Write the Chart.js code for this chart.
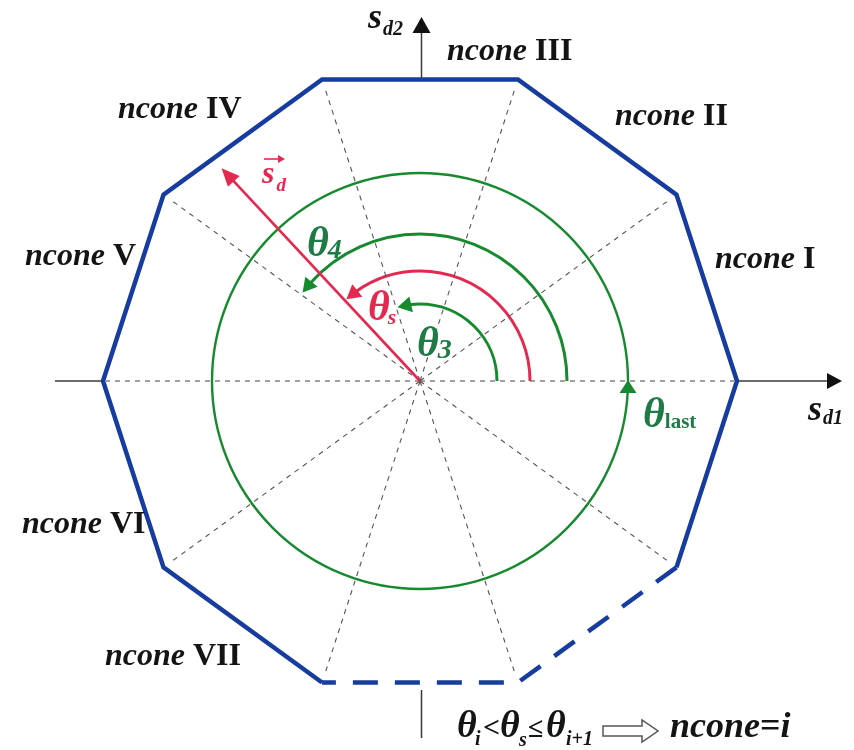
<!DOCTYPE html>
<html>
<head>
<meta charset="utf-8">
<script src="https://cdn.jsdelivr.net/npm/chart.js@4/dist/chart.umd.min.js"></script>
<style>
  html, body { margin: 0; padding: 0; background: #fff; }
  canvas { display: block; }
</style>
</head>
<body>
<canvas id="c" width="854" height="750"></canvas>
<script>
// Cone boundary angles θ1…θ10 (degrees) of the decagonal cross-section
const coneAngles = [0, 36, 72, 108, 144, 180, 216, 252, 288, 324];
const coneNames = ['I', 'II', 'III', 'IV', 'V', 'VI', 'VII'];
const decagonRadius = 317;
// vertex sequences: solid outline and the dashed (open) part
const solidVertices = [9, 0, 1, 2, 3, 4, 5, 6, 7];
const dashedVertices = [9, 8, 7];
const spokeLength = 305;
// direction vector s_d
const sdAngle = 133;
const sdLength = 291;
// angle arcs θ3, θs, θ4
const arcSubscripts = ['3', 's', '4'];
const arcEndAngles = [108, 133, 144];
const arcRadii = [77, 110, 147];
// full sweep up to θ_last
const sweepRadius = 208;

// ---- layout / styling ----
const BLUE = '#173c9f';
const GREEN = '#17892f';
const GREEN_TXT = '#1f7b46';
const RED = '#e3294f';
const AXIS = '#3a3a3a';
const INK = '#141414';
const SERIF = '"Liberation Serif", "Times New Roman", serif';
const bi = s => `italic bold ${s}px ${SERIF}`;
const b = s => `bold ${s}px ${SERIF}`;

const rad = d => d * Math.PI / 180;
const polar = (deg, r) => ({ x: r * Math.cos(rad(deg)), y: r * Math.sin(rad(deg)) });
const vertex = i => polar(coneAngles[i], decagonRadius);

// left/baseline anchors of the cone labels (chart units, origin at the centre)
const coneLabelAnchors = [
  [295, 113], [195, 256], [27, 321], [-302, 263], [-395, 116], [-398, -152], [-315, -284]
];

const line = (pts, color, width, dash, order) => ({
  data: pts, showLine: true, borderColor: color, borderWidth: width,
  borderDash: dash || [], pointRadius: 0, fill: false, order: order,
  borderCapStyle: 'butt', borderJoinStyle: 'miter'
});

const datasets = [];
// decagon outline
datasets.push(line(solidVertices.map(vertex), BLUE, 4.5, [], 1));
datasets.push(line(dashedVertices.map(vertex), BLUE, 4.5, [25, 17], 1));
// spokes to the cone boundaries
coneAngles.forEach(a => {
  const len = (a === 0 || a === 180) ? decagonRadius - 3 : spokeLength;
  datasets.push(line([{ x: 0, y: 0 }, polar(a, len)], '#555', 1.1, [5, 5], 5));
});
// coordinate axes (outside the decagon)
datasets.push(line([{ x: -365, y: 0 }, { x: -decagonRadius, y: 0 }], AXIS, 1.5, [], 3));
datasets.push(line([{ x: decagonRadius, y: 0 }, { x: 408, y: 0 }], AXIS, 1.5, [], 3));
datasets.push(line([{ x: 1.5, y: 303 }, { x: 1.5, y: 350 }], AXIS, 1.5, [], 3));
datasets.push(line([{ x: 1.5, y: -309 }, { x: 1.5, y: -357 }], AXIS, 1.5, [], 3));
// vector s_d (shaft)
datasets.push(line([{ x: 0, y: 0 }, polar(sdAngle, sdLength - 14)], RED, 2.6, [], 2));

function arrowHead(ctx, sx, sy, tip, dir, len, half, color) {
  const tx = sx.getPixelForValue(tip.x), ty = sy.getPixelForValue(tip.y);
  const dx = dir.x, dy = -dir.y;
  const bx = tx - dx * len, by = ty - dy * len;
  ctx.save();
  ctx.fillStyle = color;
  ctx.beginPath();
  ctx.moveTo(tx, ty);
  ctx.lineTo(bx - dy * half, by + dx * half);
  ctx.lineTo(bx + dy * half, by - dx * half);
  ctx.closePath();
  ctx.fill();
  ctx.restore();
}

function runText(ctx, x, y, parts) {
  let cx = x;
  for (const p of parts) {
    ctx.font = p.f;
    ctx.fillStyle = p.c;
    const px = cx + (p.dx || 0);
    ctx.fillText(p.t, px, y + (p.dy || 0));
    cx = px + ctx.measureText(p.t).width + (p.gap || 0);
  }
  return cx;
}

const diagram = {
  id: 'diagram',
  beforeDatasetsDraw(chart) {
    const { ctx, scales: { x: sx, y: sy } } = chart;
    const cx = sx.getPixelForValue(0), cy = sy.getPixelForValue(0);
    const kx = sx.getPixelForValue(1) - cx, ky = cy - sy.getPixelForValue(1);
    ctx.save();
    ctx.lineCap = 'butt';
    // full sweep circle
    ctx.strokeStyle = GREEN;
    ctx.lineWidth = 2.4;
    ctx.beginPath();
    ctx.ellipse(cx, cy, sweepRadius * kx, sweepRadius * ky, 0, 0, Math.PI * 2);
    ctx.stroke();
    // angle arcs
    arcEndAngles.forEach((a, i) => {
      const r = arcRadii[i];
      const trim = 12 / r * 180 / Math.PI;
      ctx.strokeStyle = arcSubscripts[i] === 's' ? RED : GREEN;
      ctx.lineWidth = 3;
      ctx.beginPath();
      ctx.ellipse(cx, cy, r * kx, r * ky, 0, 0, -rad(a - 1 - trim), true);
      ctx.stroke();
    });
    ctx.restore();
  },
  afterDatasetsDraw(chart) {
    const { ctx, scales: { x: sx, y: sy } } = chart;
    const P = (x, y) => [sx.getPixelForValue(x), sy.getPixelForValue(y)];
    // arc arrowheads (tangent, counter-clockwise)
    arcEndAngles.forEach((a, i) => {
      const t = a - 1;
      const tip = polar(t, arcRadii[i]);
      const back = polar(t - 12 / arcRadii[i] * 180 / Math.PI, arcRadii[i]);
      const d = { x: tip.x - back.x, y: tip.y - back.y };
      const n = Math.hypot(d.x, d.y);
      arrowHead(ctx, sx, sy, tip, { x: d.x / n, y: d.y / n }, 14, 8,
        arcSubscripts[i] === 's' ? RED : GREEN);
    });
    // sweep arrowhead at θ_last
    arrowHead(ctx, sx, sy, { x: sweepRadius, y: 1 }, { x: 0, y: 1 }, 13, 8.5, GREEN);
    // s_d arrowhead
    const u = polar(sdAngle, 1);
    arrowHead(ctx, sx, sy, polar(sdAngle, sdLength), u, 18, 8, RED);
    // axis arrowheads
    arrowHead(ctx, sx, sy, { x: 422, y: 0 }, { x: 1, y: 0 }, 15, 8, '#111');
    arrowHead(ctx, sx, sy, { x: 1.5, y: 364 }, { x: 0, y: 1 }, 16, 9, '#111');

    ctx.save();
    ctx.textBaseline = 'alphabetic';
    // cone labels
    coneNames.forEach((nm, i) => {
      const [x, y] = P(coneLabelAnchors[i][0], coneLabelAnchors[i][1]);
      runText(ctx, x, y, [
        { t: 'ncone', f: bi(32), c: INK, gap: 8 },
        { t: nm, f: b(32), c: INK }
      ]);
    });
    // axis names
    let [ax, ay] = P(-52, 353);
    runText(ctx, ax, ay, [
      { t: 's', f: bi(36), c: INK },
      { t: 'd2', f: bi(20), c: INK, dy: 7, dx: 1 }
    ]);
    [ax, ay] = P(388, -39);
    runText(ctx, ax, ay, [
      { t: 's', f: bi(36), c: INK },
      { t: 'd1', f: bi(20), c: INK, dy: 4, dx: 1 }
    ]);
    // vector label with over-arrow
    [ax, ay] = P(-158, 198);
    runText(ctx, ax, ay, [
      { t: 's', f: bi(32), c: RED },
      { t: 'd', f: bi(19), c: RED, dy: 8, dx: 2 }
    ]);
    ctx.strokeStyle = RED;
    ctx.fillStyle = RED;
    ctx.lineWidth = 1.6;
    ctx.beginPath();
    ctx.moveTo(ax + 2, ay - 24);
    ctx.lineTo(ax + 19, ay - 24);
    ctx.stroke();
    ctx.beginPath();
    ctx.moveTo(ax + 23, ay - 24);
    ctx.lineTo(ax + 16, ay - 28);
    ctx.lineTo(ax + 16, ay - 20);
    ctx.closePath();
    ctx.fill();
    // θ labels on the arcs
    const thetaAnchors = [[-3, 25], [-52, 61], [-113, 125]];
    arcSubscripts.forEach((s, i) => {
      const [tx, ty] = P(thetaAnchors[i][0], thetaAnchors[i][1]);
      const col = s === 's' ? RED : GREEN_TXT;
      runText(ctx, tx, ty, [
        { t: 'θ', f: bi(42), c: col },
        s === 's'
          ? { t: s, f: bi(22), c: col, dy: 4, dx: -2 }
          : { t: s, f: bi(28), c: col, dy: 2, dx: -1 }
      ]);
    });
    [ax, ay] = P(223, -46);
    runText(ctx, ax, ay, [
      { t: 'θ', f: bi(42), c: GREEN_TXT },
      { t: 'last', f: b(21), c: GREEN_TXT, dy: 1, dx: 0 }
    ]);
    // selection rule: θi < θs ≤ θi+1  ⇒  ncone = i
    const [, base] = P(0, -356);
    const rule = [
      ['θ', bi(38), 37, 0], ['i', bi(20), 55, 8], ['<', b(30), 63, 0],
      ['θ', bi(38), 80, 0], ['s', bi(20), 99, 9], ['≤', b(28), 108, 0],
      ['θ', bi(38), 126, 0], ['i+1', bi(20), 146, 8]
    ];
    rule.forEach(([t, f, x, dy]) => {
      ctx.font = f;
      ctx.fillStyle = INK;
      ctx.fillText(t, sx.getPixelForValue(x), base + dy);
    });
    // hollow implication arrow
    const [l, my] = P(183, -350);
    const [r] = P(238, -350);
    ctx.strokeStyle = '#555';
    ctx.fillStyle = '#fff';
    ctx.lineWidth = 1.5;
    ctx.beginPath();
    ctx.moveTo(l, my - 5);
    ctx.lineTo(r - 16, my - 5);
    ctx.lineTo(r - 16, my - 11);
    ctx.lineTo(r, my);
    ctx.lineTo(r - 16, my + 11);
    ctx.lineTo(r - 16, my + 5);
    ctx.lineTo(l, my + 5);
    ctx.closePath();
    ctx.fill();
    ctx.stroke();
    const [nx] = P(250, 0);
    runText(ctx, nx, base, [
      { t: 'ncone', f: bi(36), c: INK },
      { t: '=', f: b(36), c: INK },
      { t: 'i', f: bi(36), c: INK }
    ]);
    ctx.restore();
  }
};

new Chart(document.getElementById('c'), {
  type: 'scatter',
  data: { datasets },
  options: {
    responsive: false,
    animation: false,
    events: [],
    layout: { padding: 0 },
    plugins: { legend: { display: false }, tooltip: { enabled: false } },
    elements: { point: { radius: 0 }, line: { tension: 0 } },
    scales: {
      x: { type: 'linear', min: -420, max: 434, display: false },
      y: { type: 'linear', min: -369, max: 381, display: false }
    }
  },
  plugins: [diagram]
});
</script>
</body>
</html>
